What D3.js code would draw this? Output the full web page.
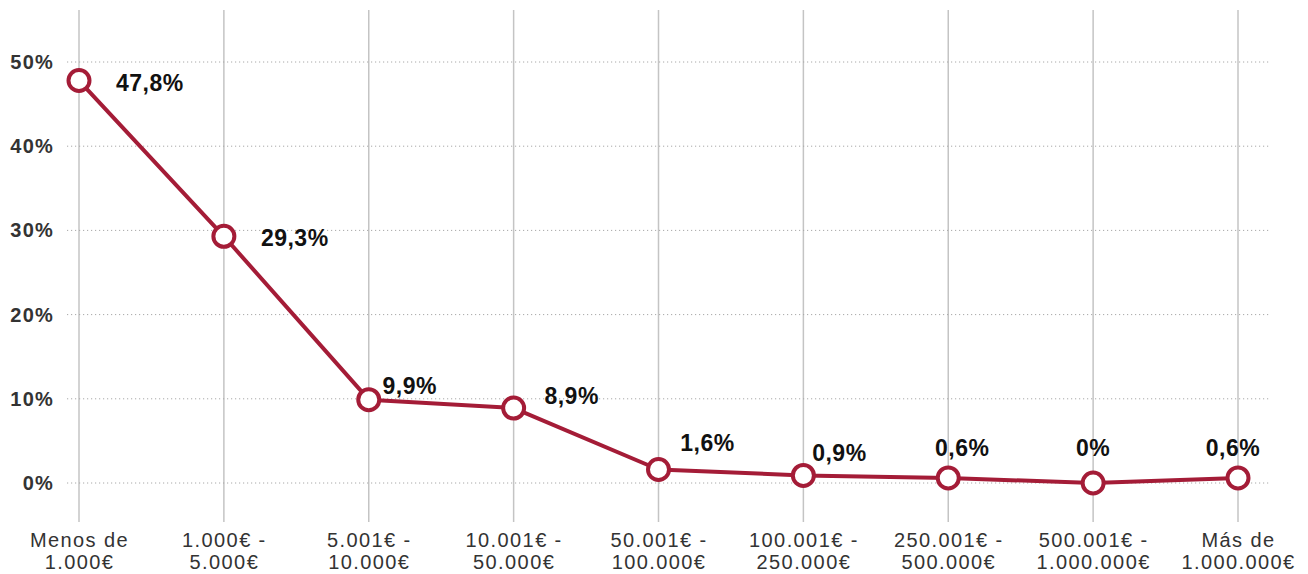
<!DOCTYPE html>
<html>
<head>
<meta charset="utf-8">
<script src="https://cdn.jsdelivr.net/npm/d3@7"></script>
<style>
  html, body { margin: 0; padding: 0; background: #fff; }
  svg { display: block; }
</style>
</head>
<body>
<svg id="chart" width="1308" height="574"></svg>
<script>
// Income brackets (two-line labels) and share of respondents per bracket
const categories = [
  ["Menos de", "1.000€"],
  ["1.000€ -", "5.000€"],
  ["5.001€ -", "10.000€"],
  ["10.001€ -", "50.000€"],
  ["50.001€ -", "100.000€"],
  ["100.001€ -", "250.000€"],
  ["250.001€ -", "500.000€"],
  ["500.001€ -", "1.000.000€"],
  ["Más de", "1.000.000€"]
];
const values = [47.8, 29.3, 9.9, 8.9, 1.6, 0.9, 0.6, 0, 0.6];
const valueLabels = ["47,8%", "29,3%", "9,9%", "8,9%", "1,6%", "0,9%", "0,6%", "0%", "0,6%"];
const yTicks = [0, 10, 20, 30, 40, 50];
const yTickLabels = ["0%", "10%", "20%", "30%", "40%", "50%"];

// Label placement relative to each marker
const labelDx = [37, 37, 41, 58, 49, 36, 14, 0, -5];
const labelDy = [2, 2, -14, -12, -27, -22, -30, -35, -30];
const labelAnchor = ["start", "start", "middle", "middle", "middle", "middle", "middle", "middle", "middle"];

const svg = d3.select("#chart");
const red = "#a41c37";
const font = "'Liberation Sans', Arial, sans-serif";

const keys = categories.map(c => c.join(" "));
const x = d3.scalePoint().domain(keys).range([79, 1238]);
const y = d3.scaleLinear().domain([0, 50]).range([483, 62]);

// Vertical category gridlines
svg.append("g")
  .selectAll("line")
  .data(keys)
  .join("line")
  .attr("x1", d => x(d)).attr("x2", d => x(d))
  .attr("y1", 10).attr("y2", 522)
  .attr("stroke", "#c4c4c4")
  .attr("stroke-width", 1.5);

// Horizontal dotted gridlines
svg.append("g")
  .selectAll("line")
  .data(yTicks)
  .join("line")
  .attr("x1", 67).attr("x2", 1270)
  .attr("y1", d => y(d)).attr("y2", d => y(d))
  .attr("stroke", "#a8a8a8")
  .attr("stroke-width", 1)
  .attr("stroke-dasharray", "1.2,2.8");

// Y axis tick labels
const yAxis = d3.axisLeft(y)
  .tickValues(yTicks)
  .tickFormat((d, i) => yTickLabels[i])
  .tickSize(0)
  .tickPadding(0);
const gy = svg.append("g").attr("transform", "translate(54,0)").call(yAxis);
gy.select(".domain").remove();
gy.selectAll("text")
  .attr("fill", "#333")
  .style("font-family", font)
  .style("font-size", "20px")
  .style("font-weight", "bold")
  .style("letter-spacing", "1.2px");

// Category labels on two lines
const xAxis = d3.axisBottom(x).tickSize(0).tickFormat(() => "");
const gx = svg.append("g").attr("transform", "translate(0,528)").call(xAxis);
gx.select(".domain").remove();
gx.selectAll(".tick").each(function(d, i) {
  const t = d3.select(this).append("text")
    .attr("text-anchor", "middle")
    .attr("fill", "#333")
    .style("font-family", font)
    .style("font-size", "20px")
    .style("letter-spacing", "1.4px");
  t.append("tspan").attr("x", 0).attr("y", 19).text(categories[i][0]);
  t.append("tspan").attr("x", 0).attr("y", 41).text(categories[i][1]);
});

// Series line
const line = d3.line()
  .x((d, i) => x(keys[i]))
  .y(d => y(d));
svg.append("path")
  .datum(values)
  .attr("d", line)
  .attr("fill", "none")
  .attr("stroke", red)
  .attr("stroke-width", 4)
  .attr("stroke-linejoin", "round");

// Hollow markers
svg.append("g")
  .selectAll("circle")
  .data(values)
  .join("circle")
  .attr("cx", (d, i) => x(keys[i]))
  .attr("cy", d => y(d))
  .attr("r", 10.5)
  .attr("fill", "#fff")
  .attr("stroke", red)
  .attr("stroke-width", 4);

// Value labels
svg.append("g")
  .selectAll("text")
  .data(values)
  .join("text")
  .attr("x", (d, i) => x(keys[i]) + labelDx[i])
  .attr("y", (d, i) => y(d) + labelDy[i])
  .attr("dy", "0.35em")
  .attr("text-anchor", (d, i) => labelAnchor[i])
  .attr("fill", "#111")
  .style("font-family", font)
  .style("font-size", "23px")
  .style("font-weight", "bold")
  .style("letter-spacing", "0.5px")
  .text((d, i) => valueLabels[i]);
</script>
</body>
</html>
